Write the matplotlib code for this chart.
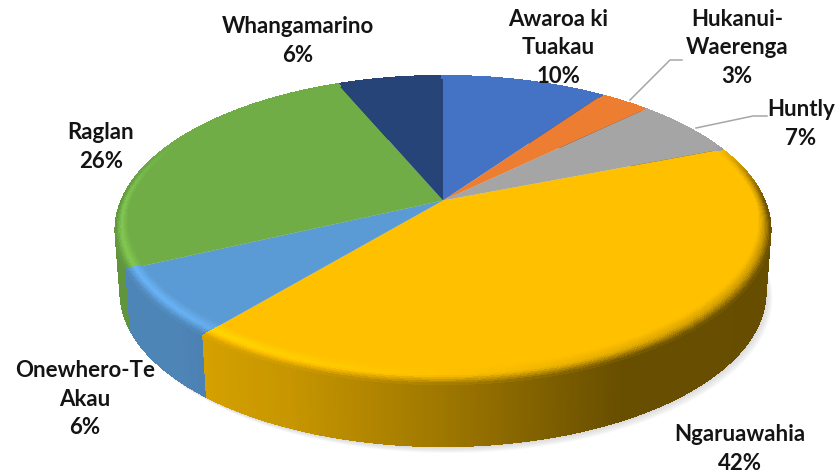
import numpy as np
import matplotlib
matplotlib.use("Agg")
import matplotlib.pyplot as plt
from matplotlib.collections import PolyCollection
from matplotlib.colors import to_rgb
from matplotlib.transforms import Transform

plt.rcParams['font.family'] = ['Lato', 'DejaVu Sans']

categories = ["Awaroa ki\nTuakau", "Hukanui-\nWaerenga", "Huntly", "Ngaruawahia",
              "Onewhero-Te\nAkau", "Raglan", "Whangamarino"]
values = [9.7, 3.0, 6.3, 42.0, 7.0, 25.7, 6.3]
percent_labels = ["10%", "3%", "7%", "42%", "6%", "26%", "6%"]
colors = ["#4472c4", "#ed7d31", "#a5a5a5", "#ffc000", "#5b9bd5", "#70ad47", "#264478"]

label_centers = [(558, 48), (737, 48), (801, 124), (740, 449), (85, 399), (101, 147), (298, 41)]
leaders = {1: ([630, 670, 682], [100, 60, 60]), 2: ([696, 753, 767], [128, 116, 116])}

CX, CY = 443.0, 200.5
B, A, K = 322.0, 149.0, 0.191
DEPTH = 62.0
BOTTOM_SCALE = 0.985


def project(u, v, drop=0.0, scale=1.0):
    d = 1.0 + K * v
    return CX + scale * B * u / d, CY - A * v / d + drop


class Perspective(Transform):
    input_dims = output_dims = 2
    is_affine = False
    has_inverse = False

    def transform_non_affine(self, xy):
        xy = np.asarray(xy, float)
        x, y = project(xy[:, 0], xy[:, 1])
        return np.column_stack([x, y])


fig = plt.figure(figsize=(8.35, 4.75), dpi=100)
ax = fig.add_axes([0, 0, 1, 1])
wedges, _ = ax.pie(values, colors=colors, startangle=90, counterclock=False, radius=1.0,
                   wedgeprops={"linewidth": 0})
ax.set_aspect("auto")
ax.set_xlim(0, 835)
ax.set_ylim(475, 0)
ax.axis("off")

persp = Perspective() + ax.transData
for w in wedges:
    w.set_transform(persp)
    w.set_zorder(5)

edges = 90.0 - np.cumsum([0.0] + values) * 3.6
step = 0.5
ang_lo = np.arange(-270.0, 90.0, step)


def wedge_index(a):
    return int(np.clip(np.searchsorted(-edges, -a, side="right") - 1, 0, len(values) - 1))


def side_light(u):
    return np.interp(u, [-1.0, -0.74, -0.4, 0.0, 0.45, 1.0],
                     [0.86, 0.86, 0.78, 0.62, 0.41, 0.40])


# soft shadow
full = np.radians(np.linspace(0, 360, 361))
for k in range(8):
    sx, sy = project(np.cos(full), np.sin(full), DEPTH, BOTTOM_SCALE)
    ax.fill(sx + k * 0.9, sy + k * 0.9, color="#808080", alpha=0.045, lw=0, zorder=1)

# outer wall
polys, cols = [], []
for a in ang_lo:
    a0, a1 = np.radians(a), np.radians(a + step * 1.5)
    u0, v0, u1, v1 = np.cos(a0), np.sin(a0), np.cos(a1), np.sin(a1)
    polys.append([project(u0, v0), project(u1, v1),
                  project(u1, v1, DEPTH, BOTTOM_SCALE), project(u0, v0, DEPTH, BOTTOM_SCALE)])
    base = np.array(to_rgb(colors[wedge_index(a + step / 2)]))
    cols.append(np.clip(base * side_light(u0), 0, 1))
ax.add_collection(PolyCollection(polys, facecolors=cols, edgecolors="none", zorder=3, antialiaseds=False))

# rounded bevel on the rim of the top face
n_r = 10
polys, cols = [], []
for a in ang_lo:
    a0, a1 = np.radians(a), np.radians(a + step * 1.5)
    um, vm = np.cos(a0), np.sin(a0)
    base = np.array(to_rgb(colors[wedge_index(a + step / 2)]))
    w = np.clip((0.4 - vm) / 0.4, 0, 1)
    h = 1.0 + 0.2 * min(-um, 0.8) if um < 0 else 1.0 - 0.22 * um
    s = side_light(um)
    R0 = 1.0 - (0.028 + 0.05 * max(0.0, -vm))
    for i in range(n_r):
        r0 = R0 + (1 - R0) * i / n_r
        r1 = R0 + (1 - R0) * (i + 1) / n_r
        t = (i + 0.5) / n_r
        f = np.interp(t, [0, 0.5, 1.0], [1.0, h, s])
        f = 1 + w * (f - 1)
        polys.append([project(r0 * np.cos(a0), r0 * np.sin(a0)), project(r0 * np.cos(a1), r0 * np.sin(a1)),
                      project(r1 * np.cos(a1), r1 * np.sin(a1)), project(r1 * np.cos(a0), r1 * np.sin(a0))])
        cols.append(np.clip(base * f, 0, 1))
ax.add_collection(PolyCollection(polys, facecolors=cols, edgecolors="none", zorder=6, antialiaseds=False))

for idx, (lx, ly) in leaders.items():
    ax.plot(lx, ly, color="#a6a6a6", lw=1.1, zorder=7)

for name, pct, (x, y) in zip(categories, percent_labels, label_centers):
    ax.text(x, y, f"{name}\n{pct}", ha="center", va="center", ma="center",
            fontsize=16, fontweight="bold", color="#141414", linespacing=1.42, zorder=8, clip_on=False)

fig.savefig("out.png", dpi=100)
